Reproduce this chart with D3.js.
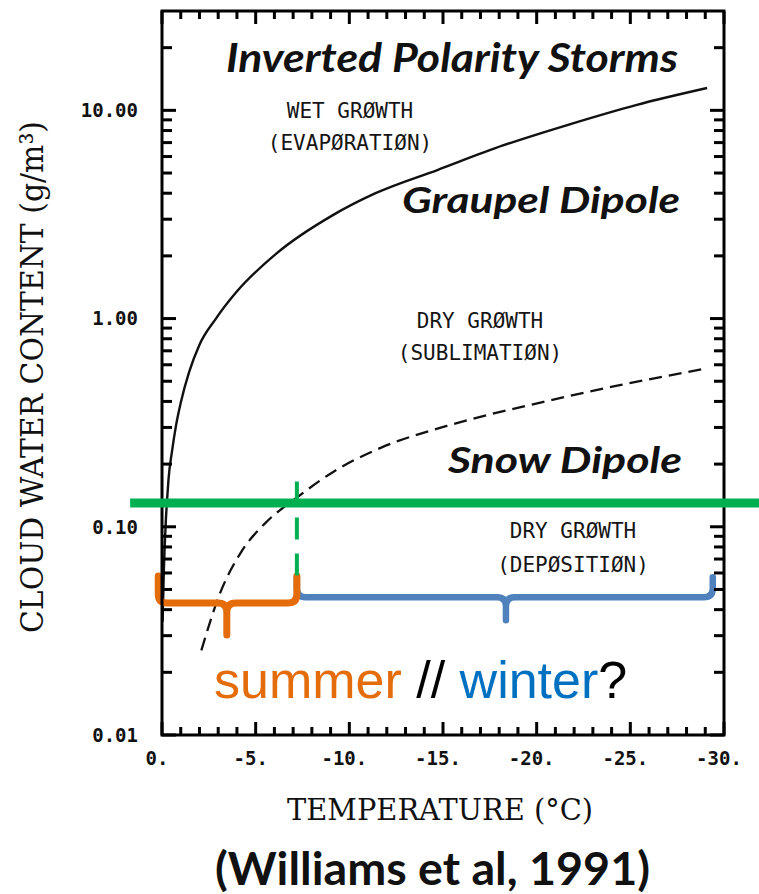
<!DOCTYPE html>
<html>
<head>
<meta charset="utf-8">
<script src="https://cdn.jsdelivr.net/npm/d3@7"></script>
<style>
  html, body { margin: 0; padding: 0; background: #fff; }
  svg { display: block; }
</style>
</head>
<body>
<svg id="chart" width="759" height="894"></svg>
<script>
// Temperature (°C) and cloud water content (g/m³) along the wet/dry growth boundary
const wetT   = [-0.03, -0.1, -0.2, -0.30, -0.35, -0.53, -0.75, -1.01, -1.45, -1.99, -2.88, -3.97, -6.1, -9.1, -11.4, -14.7, -18.2, -21.8, -25.3, -29.1];
const wetLWC = [0.035, 0.062, 0.105, 0.147, 0.170, 0.229, 0.307, 0.397, 0.554, 0.745, 1.0, 1.34, 2.05, 3.13, 4.0, 5.17, 6.78, 8.59, 10.6, 12.8];

// Boundary between sublimation and deposition regimes
const dryT   = [-2.1, -3.1, -4.2, -5.6, -7.1, -9.2, -11.7, -15.2, -20.2, -24.5, -28.8];
const dryLWC = [0.0255, 0.048, 0.075, 0.106, 0.136, 0.185, 0.24, 0.305, 0.395, 0.48, 0.57];

// Axis ticks
const xTickValues = [0, -5, -10, -15, -20, -25, -30];
const xTickLabels = ["0.", "-5.", "-10.", "-15.", "-20.", "-25.", "-30."];
const xMinorValues = [-1,-2,-3,-4,-6,-7,-8,-9,-11,-12,-13,-14,-16,-17,-18,-19,
                      -21,-22,-23,-24,-26,-27,-28,-29];
const yTickValues = [0.01, 0.1, 1, 10];
const yTickLabels = ["0.01", "0.10", "1.00", "10.00"];
const yMinorValues = [0.02,0.03,0.04,0.05,0.06,0.07,0.08,0.09,
                      0.2,0.3,0.4,0.5,0.6,0.7,0.8,0.9,
                      2,3,4,5,6,7,8,9,20];

// Snow-dipole threshold and where it meets the dry growth boundary
const thresholdLWC = 0.13;
const thresholdSpanT = [1.7, -32];
const crossT = -7.2;
const crossLWC = [0.165, 0.056];

// Seasonal temperature ranges: [warm end, cold end, middle]
const summerT = [0.2, -7.2, -3.46];
const winterT = [-7.2, -29.4, -18.36];
// brace heights: [top of ends, bar, tip]
const summerLWC = [0.058, 0.043, 0.0302];
const winterLWC = [0.0573, 0.0459, 0.0356];

const svg = d3.select("#chart");

const x = d3.scaleLinear().domain([0, -30]).range([162, 724]);
const y = d3.scaleLog().domain([0.01, 30]).range([735, 11]);

const xl = 162, xr = 724, yb = 735, yt = 11;

// ---- tick labels ----
const tickFont = "'DejaVu Sans Mono', monospace";

svg.append("g").selectAll("text").data(xTickValues).join("text")
  .attr("x", d => x(d) - 5).attr("y", yb + 30)
  .attr("text-anchor", "middle")
  .style("font-family", tickFont).style("font-weight", "bold").style("font-size", "19px")
  .attr("fill", "#111")
  .text((d, i) => xTickLabels[i]);

svg.append("g").selectAll("text").data(yTickValues).join("text")
  .attr("x", xl - 24).attr("y", d => y(d)).attr("dy", "0.36em")
  .attr("text-anchor", "end")
  .style("font-family", tickFont).style("font-weight", "bold").style("font-size", "19px")
  .attr("fill", "#111")
  .text((d, i) => yTickLabels[i]);

// ---- axis titles ----
const titleFont = "'DejaVu Serif', 'Liberation Serif', serif";
svg.append("text")
  .attr("x", 287).attr("y", 820)
  .attr("textLength", 306).attr("lengthAdjust", "spacingAndGlyphs")
  .style("font-family", titleFont).style("font-size", "30px")
  .attr("fill", "#111")
  .text("TEMPERATURE (°C)");

svg.append("text")
  .attr("transform", "translate(43,633) rotate(-90)")
  .attr("textLength", 512).attr("lengthAdjust", "spacingAndGlyphs")
  .style("font-family", titleFont).style("font-size", "32px")
  .attr("fill", "#111")
  .text("CLOUD WATER CONTENT (g/m³)");

// ---- growth boundaries ----
const line = d3.line()
  .x(d => x(d[0])).y(d => y(d[1]))
  .curve(d3.curveMonotoneX);

svg.append("path")
  .datum(wetT.map((t, i) => [t, wetLWC[i]]))
  .attr("d", line).attr("fill", "none")
  .attr("stroke", "#111").attr("stroke-width", 2.4);

svg.append("path")
  .datum(dryT.map((t, i) => [t, dryLWC[i]]))
  .attr("d", line).attr("fill", "none")
  .attr("stroke", "#111").attr("stroke-width", 2.3)
  .attr("stroke-dasharray", "13,7");

// ---- regime labels (plotter lettering) ----
const plotFont = "'DejaVu Sans Mono', monospace";
const regimeLabels = [
  ["WET GRØWTH", 350, 118], ["(EVAPØRATIØN)", 350, 150],
  ["DRY GRØWTH", 480, 328], ["(SUBLIMATIØN)", 480, 360],
  ["DRY GRØWTH", 573, 538], ["(DEPØSITIØN)", 573, 572]
];
svg.append("g").selectAll("text").data(regimeLabels).join("text")
  .attr("x", d => d[1]).attr("y", d => d[2]).attr("text-anchor", "middle")
  .style("font-family", plotFont).style("font-size", "21px")
  .attr("fill", "#151515")
  .text(d => d[0]);

// ---- storm type headings ----
const headFont = "Lato, 'Open Sans', sans-serif";
const headings = [
  ["Inverted Polarity Storms", 226, 72, 40, 452],
  ["Graupel Dipole", 402, 213, 37, 278],
  ["Snow Dipole", 448, 473, 37, 234]
];
svg.append("g").selectAll("text").data(headings).join("text")
  .attr("x", d => d[1]).attr("y", d => d[2])
  .attr("textLength", d => d[4]).attr("lengthAdjust", "spacingAndGlyphs")
  .style("font-family", headFont).style("font-weight", "bold").style("font-style", "italic")
  .style("font-size", d => d[3] + "px")
  .attr("fill", "#111")
  .text(d => d[0]);

// ---- seasonal braces ----
function bracePath(ts, vs, r) {
  const x0 = x(ts[0]), x1 = x(ts[1]), xm = x(ts[2]);
  const yTop = y(vs[0]), yBar = y(vs[1]), yTip = y(vs[2]);
  const p = d3.path();
  p.moveTo(x0, yTop);
  p.lineTo(x0, yBar - r);
  p.quadraticCurveTo(x0, yBar, x0 + r, yBar);
  p.lineTo(xm - r, yBar);
  p.quadraticCurveTo(xm, yBar, xm, yBar + r);
  p.lineTo(xm, yTip);
  p.moveTo(xm, yBar + r);
  p.quadraticCurveTo(xm, yBar, xm + r, yBar);
  p.lineTo(x1 - r, yBar);
  p.quadraticCurveTo(x1, yBar, x1, yBar - r);
  p.lineTo(x1, yTop);
  return p.toString();
}

svg.append("path")
  .attr("d", bracePath(winterT, winterLWC, 9))
  .attr("fill", "none").attr("stroke", "#4F81BD").attr("stroke-width", 6.5)
  .attr("stroke-linecap", "round").attr("stroke-linejoin", "round");

svg.append("path")
  .attr("d", bracePath(summerT, summerLWC, 9))
  .attr("fill", "none").attr("stroke", "#E46C0A").attr("stroke-width", 7)
  .attr("stroke-linecap", "round").attr("stroke-linejoin", "round");

// ---- snow-dipole threshold ----
svg.append("line")
  .attr("x1", x(crossT)).attr("x2", x(crossT))
  .attr("y1", y(crossLWC[0])).attr("y2", y(crossLWC[1]))
  .attr("stroke", "#00B050").attr("stroke-width", 4)
  .attr("stroke-dasharray", "22,14");

// ---- frame and inward tick marks (drawn as filled bars) ----
const frame = svg.append("g").attr("fill", "#000");

frame.append("path")
  .attr("d", `M${xl},${yt}H${xr}V${yb}H${xl}Z`)
  .attr("fill", "none").attr("stroke", "#000").attr("stroke-width", 3);

const tw = 3;
function xTickBars(values, len) {
  frame.append("g").selectAll("rect").data(values).join("rect")
    .attr("x", d => x(d) - tw / 2).attr("y", yb - len)
    .attr("width", tw).attr("height", len);
  frame.append("g").selectAll("rect").data(values).join("rect")
    .attr("x", d => x(d) - tw / 2).attr("y", yt)
    .attr("width", tw).attr("height", len);
}
function yTickBars(values, len) {
  frame.append("g").selectAll("rect").data(values).join("rect")
    .attr("x", xl).attr("y", d => y(d) - tw / 2)
    .attr("width", len).attr("height", tw);
  frame.append("g").selectAll("rect").data(values).join("rect")
    .attr("x", xr - len).attr("y", d => y(d) - tw / 2)
    .attr("width", len).attr("height", tw);
}
xTickBars(xMinorValues, 8);
xTickBars(xTickValues, 13);
yTickBars(yMinorValues, 10);
yTickBars(yTickValues, 14);

// green threshold over the frame
svg.append("line")
  .attr("x1", x(thresholdSpanT[0])).attr("x2", x(thresholdSpanT[1]))
  .attr("y1", y(thresholdLWC)).attr("y2", y(thresholdLWC))
  .attr("stroke", "#00B050").attr("stroke-width", 9);

// ---- season caption ----
const caption = svg.append("text")
  .attr("x", 214).attr("y", 698)
  .style("font-family", "'Liberation Sans', Arial, sans-serif").style("font-size", "52px");
caption.append("tspan").attr("fill", "#E46C0A").text("summer");
caption.append("tspan").attr("fill", "#000").text(" // ");
caption.append("tspan").attr("fill", "#0070C0").text("winter");
caption.append("tspan").attr("fill", "#000").text("?");

// ---- source ----
svg.append("text")
  .attr("x", 215).attr("y", 885)
  .attr("textLength", 435).attr("lengthAdjust", "spacingAndGlyphs")
  .style("font-family", headFont).style("font-weight", "bold").style("font-size", "46px")
  .attr("fill", "#111")
  .text("(Williams et al, 1991)");
</script>
</body>
</html>
